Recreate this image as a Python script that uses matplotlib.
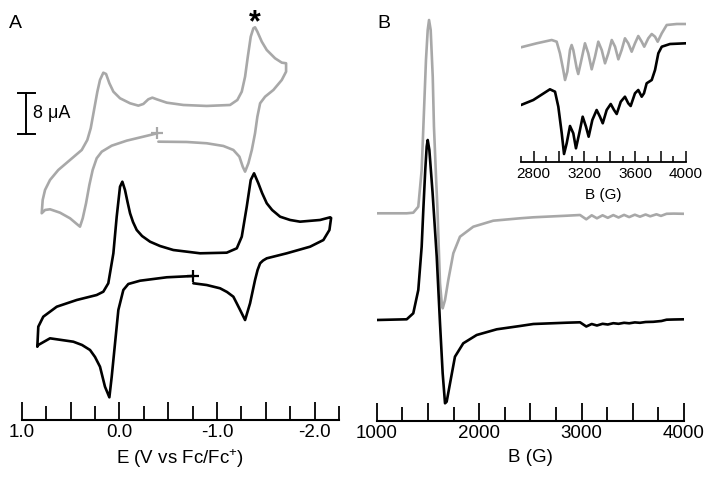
import numpy as np
import matplotlib.pyplot as plt
from matplotlib.ticker import FixedLocator, FixedFormatter

plt.rcParams['font.family'] = ['Liberation Sans', 'DejaVu Sans']
plt.rcParams['mathtext.fontset'] = 'custom'
plt.rcParams['mathtext.rm'] = 'Liberation Sans'
plt.rcParams['mathtext.default'] = 'regular'
plt.rcParams['axes.unicode_minus'] = False

GRAY = '#a8a8a8'

# --- panel A: cyclic voltammograms (E in V vs Fc/Fc+, I in uA, rel. to start) ---
cv_black_E = [-0.758, -0.486, -0.212, -0.092, -0.041, 0.010, 0.044, 0.078, 0.102, 0.147,
              0.198, 0.249, 0.300, 0.382, 0.471, 0.710, 0.830, 0.840, 0.830, 0.779,
              0.641, 0.436, 0.232, 0.164, 0.113, 0.061, 0.027, -0.007, -0.031, -0.058,
              -0.084, -0.110, -0.140, -0.178, -0.233, -0.315, -0.417, -0.553, -0.827, -1.100,
              -1.203, -1.254, -1.305, -1.346, -1.380, -1.424, -1.462, -1.510, -1.565, -1.647,
              -1.749, -1.851, -2.056, -2.159, -2.169, -2.152, -2.090, -1.954, -1.715, -1.510,
              -1.472, -1.442, -1.416, -1.390, -1.339, -1.288, -1.237, -1.201, -1.168, -1.103,
              -1.032, -0.895, -0.758]
cv_black_I = [0.0, -0.25, -0.92, -1.56, -2.73, -6.63, -13.13, -19.65, -23.67, -21.6,
              -17.7, -15.8, -14.44, -13.46, -12.82, -12.16, -13.46, -13.8, -9.89, -7.94,
              -5.99, -4.68, -3.71, -3.06, -1.42, 4.43, 11.57, 17.42, 18.4, 16.78,
              14.44, 12.23, 10.54, 8.98, 7.80, 6.69, 5.85, 5.07, 4.43, 4.55,
              5.40, 7.67, 13.52, 18.73, 20.04, 18.09, 16.2, 14.19, 12.88, 11.57,
              10.93, 10.6, 10.93, 11.45, 11.32, 8.98, 7.02, 5.72, 4.43, 3.45,
              3.02, 2.48, 1.17, -0.78, -5.33, -8.59, -6.63, -5.27, -4.04, -3.12,
              -2.4, -1.76, -1.42]

cv_gray_E = [-0.390, -0.246, -0.076, 0.078, 0.180, 0.232, 0.273, 0.307, 0.341, 0.375,
             0.403, 0.436, 0.505, 0.608, 0.710, 0.761, 0.795, 0.785, 0.761, 0.710,
             0.625, 0.505, 0.385, 0.328, 0.293, 0.259, 0.225, 0.198, 0.164, 0.136,
             0.102, 0.061, -0.007, -0.110, -0.195, -0.246, -0.297, -0.338, -0.383, -0.486,
             -0.656, -0.895, -1.134, -1.209, -1.254, -1.288, -1.316, -1.346, -1.373, -1.390,
             -1.414, -1.459, -1.510, -1.595, -1.664, -1.708, -1.708, -1.664, -1.578, -1.493,
             -1.442, -1.414, -1.390, -1.357, -1.322, -1.288, -1.264, -1.230, -1.168, -1.066,
             -0.895, -0.691, -0.400]
cv_gray_I = [0.0, -0.66, -1.44, -2.42, -3.59, -4.88, -7.16, -10.09, -13.66, -16.59,
             -18.22, -17.70, -16.59, -15.49, -14.83, -14.97, -15.61, -13.01, -11.06, -9.11,
             -7.16, -5.21, -3.26, -1.31, 0.98, 4.55, 8.12, 10.4, 11.82, 11.57,
             9.76, 8.12, 6.83, 5.85, 5.39, 5.72, 6.63, 6.95, 6.63, 5.97,
             5.52, 5.33, 5.52, 6.50, 8.12, 11.04, 14.95, 18.85, 20.49, 20.68,
             19.82, 17.87, 16.25, 14.63, 13.78, 13.66, 12.02, 10.4, 8.45, 7.14,
             5.85, 3.24, 0.0, -3.26, -5.85, -7.49, -6.52, -4.57, -3.26, -2.48,
             -1.95, -1.70, -1.64]

# --- panel B: EPR spectra (B in G, derivative signal in a.u.) ---
epr_gray_B = [1000, 1293, 1357, 1406, 1439, 1462, 1481, 1498, 1511, 1527,
              1547, 1559, 1579, 1592, 1618, 1635, 1644, 1667, 1699, 1748,
              1813, 1943, 2138, 2399, 2529, 2855, 2985, 3046, 3099, 3150,
              3205, 3256, 3310, 3361, 3415, 3465, 3520, 3570, 3625, 3670,
              3731, 3775, 3830, 3900, 4000]
epr_gray = [0, 0, 0.6, 6.6, 43.3, 103.3, 153.3, 183.3, 193.3, 183.3,
            136.6, 86.6, 36.6, 6.6, -70, -90, -95, -86.7, -66.7, -40,
            -23.4, -13.4, -7.4, -5, -4, -2.4, -1.7, -6.0, -2.0, -5.0,
            -2.0, -4.5, -1.8, -4.2, -1.6, -3.8, -1.4, -3.4, -1.2, -3.0,
            -1.0, -2.6, -0.5, -0.3, -0.5]

epr_black_B = [1000, 1293, 1357, 1406, 1439, 1455, 1474, 1488, 1498, 1514,
               1545, 1586, 1618, 1644, 1667, 1683, 1716, 1764, 1845, 1976,
               2172, 2399, 2529, 2855, 2985, 3046, 3099, 3150, 3205, 3256,
               3310, 3361, 3415, 3465, 3520, 3570, 3625, 3700, 3780, 3830,
               3900, 4000]
epr_black = [0, 0.7, 6.7, 30, 73.3, 110, 150, 173.3, 180, 170,
             128, 63.3, -3.3, -53.3, -83.3, -81.7, -63.3, -36.7, -23.3, -15,
             -9.3, -6, -4, -2.7, -2.3, -6.5, -4, -5.5, -3.8, -4.5,
             -3.2, -3.8, -2.8, -3.3, -2.4, -2.8, -2.0, -1.8, -1.0, 0.3,
             0.5, 0.7]

# inset: expanded hyperfine region
ins_gray_B = [2700, 2824, 2942, 2981, 3007, 3033, 3047, 3065, 3086, 3099,
              3112, 3139, 3151, 3170, 3204, 3230, 3257, 3283, 3309, 3336,
              3362, 3388, 3415, 3441, 3467, 3493, 3519, 3545, 3572, 3598,
              3624, 3651, 3671, 3703, 3730, 3756, 3777, 3809, 3848, 3927,
              4000]
ins_gray = [0, 4, 7.3, 5.6, -6, -22.7, -32.7, -24.4, -2.7, 2.3,
            -2.7, -21, -26.7, -16, 4, -6, -22, -9.4, 5.6, -2.7,
            -16, -6, 7.3, 0.6, -12, -2.7, 9, 4, -4.4, 4,
            11.3, 5.6, 0.6, 9, 13.3, 10.6, 5.6, 14, 22.3, 23.3,
            23.3]

ins_black_B = [2700, 2797, 2928, 2968, 2994, 3021, 3039, 3060, 3086, 3112,
               3133, 3159, 3186, 3212, 3233, 3262, 3296, 3322, 3344, 3375,
               3407, 3433, 3454, 3486, 3519, 3545, 3564, 3598, 3624, 3651,
               3669, 3690, 3730, 3756, 3782, 3809, 3874, 4000]
ins_black = [0, 5, 15.7, 13.3, -1.7, -28.3, -49, -38.3, -21, -28.3,
             -43.3, -28.3, -11.7, -21.7, -31.7, -15, -5, -11.7, -18.3, -5,
             1, -5, -9, 3.3, 8.3, 1.7, -1, 11.7, 15, 8.3,
             11.7, 21.7, 25, 35, 51.7, 58.3, 61, 61.7]

W, H = 714, 478
fig = plt.figure(figsize=(W / 100, H / 100), dpi=100)


def px_axes(x0, x1, ybot, ytop):
    # axes placed by pixel edges of the reference picture
    return fig.add_axes([x0 / W, 1 - ybot / H, (x1 - x0) / W, (ybot - ytop) / H])


def strip(ax, lw=1.5):
    for s in ['left', 'right', 'top']:
        ax.spines[s].set_visible(False)
    ax.spines['bottom'].set_linewidth(lw)
    ax.set_yticks([])
    ax.patch.set_visible(False)


line_kw = dict(lw=1.9, solid_joinstyle='round', solid_capstyle='round')
FS = 13.5

# ---------------- panel A ----------------
px_per_uA = 5.125
axA = px_axes(21.7, 339, 419.5, 0)
axA.set_xlim(1.0, -2.25)
axA.set_ylim(0, 419.5 / px_per_uA)
strip(axA)

gray_off, black_off = 55.85, 28.0
axA.plot(cv_gray_E, np.array(cv_gray_I) + gray_off, color=GRAY, **line_kw)
axA.plot(cv_black_E, np.array(cv_black_I) + black_off, color='black', **line_kw)
axA.plot(cv_gray_E[0], gray_off, marker='+', ms=8, mew=1.6, color=GRAY)
axA.plot(cv_black_E[0], black_off, marker='+', ms=8, mew=1.6, color='black')

majA = [1.0, 0.5, 0.0, -0.5, -1.0, -1.5, -2.0]
axA.xaxis.set_major_locator(FixedLocator(majA))
axA.xaxis.set_major_formatter(FixedFormatter(['1.0', '', '0.0', '', '-1.0', '', '-2.0']))
axA.xaxis.set_minor_locator(FixedLocator([0.75, 0.25, -0.25, -0.75, -1.25, -1.75, -2.25]))
axA.tick_params(axis='x', which='major', direction='in', length=13, width=1.3,
                pad=3.5, labelsize=FS)
axA.tick_params(axis='x', which='minor', direction='in', length=10, width=1.3)
axA.set_xlabel('E (V vs Fc/Fc$^{+}$)', fontsize=FS, labelpad=4.5)

# scale bar 8 uA
bar_E = 0.956
bar_lo = 55.65
axA.plot([bar_E, bar_E], [bar_lo, bar_lo + 8], color='black', lw=1.4, clip_on=False)
for yy in (bar_lo, bar_lo + 8):
    axA.plot([1.035, 0.864], [yy, yy], color='black', lw=1.4, clip_on=False)
axA.text(0.889, bar_lo + 4, '8 μA', ha='left', va='center', fontsize=13)

axA.text(-1.39, 77.3, '*', ha='center', va='center', fontsize=22, fontweight='bold')

# ---------------- panel B ----------------
axB = px_axes(376.7, 684, 420.5, 0)
axB.set_xlim(1000, 4000)
axB.set_ylim(0, 420.5)
strip(axB)
axB.plot(epr_gray_B, np.array(epr_gray) + 207.2, color=GRAY, **line_kw)
axB.plot(epr_black_B, np.array(epr_black) + 100.5, color='black', **line_kw)

axB.xaxis.set_major_locator(FixedLocator(np.arange(1000, 4001, 500)))
axB.xaxis.set_major_formatter(FixedFormatter(['1000', '', '2000', '', '3000', '', '4000']))
axB.xaxis.set_minor_locator(FixedLocator(np.arange(1250, 4000, 500)))
axB.tick_params(axis='x', which='major', direction='in', length=13, width=1.3,
                pad=3.5, labelsize=FS)
axB.tick_params(axis='x', which='minor', direction='in', length=10, width=1.3)
axB.set_xlabel('B (G)', fontsize=FS, labelpad=4.5)

# inset
axI = px_axes(521, 686, 162.5, 10)
axI.set_xlim(2700, 4000)
axI.set_ylim(0, 152.5)
strip(axI, lw=1.3)
axI.plot(ins_gray_B, np.array(ins_gray) + 115.2, color=GRAY, **line_kw)
axI.plot(ins_black_B, np.array(ins_black) + 57.5, color='black', **line_kw)
axI.xaxis.set_major_locator(FixedLocator(np.arange(2800, 4001, 200)))
axI.xaxis.set_major_formatter(FixedFormatter(['2800', '', '3200', '', '3600', '', '4000']))
axI.xaxis.set_minor_locator(FixedLocator(np.arange(2700, 4000, 200)))
axI.tick_params(axis='x', which='major', direction='in', length=8, width=1.1,
                pad=3, labelsize=11)
axI.tick_params(axis='x', which='minor', direction='in', length=4.5, width=1.1)
axI.set_xlabel('B (G)', fontsize=11, labelpad=5)

fig.text(15 / W, 1 - 24 / H, 'A', ha='center', va='center', fontsize=14)
fig.text(384 / W, 1 - 24 / H, 'B', ha='center', va='center', fontsize=14)

fig.savefig('out.png', dpi=100)
